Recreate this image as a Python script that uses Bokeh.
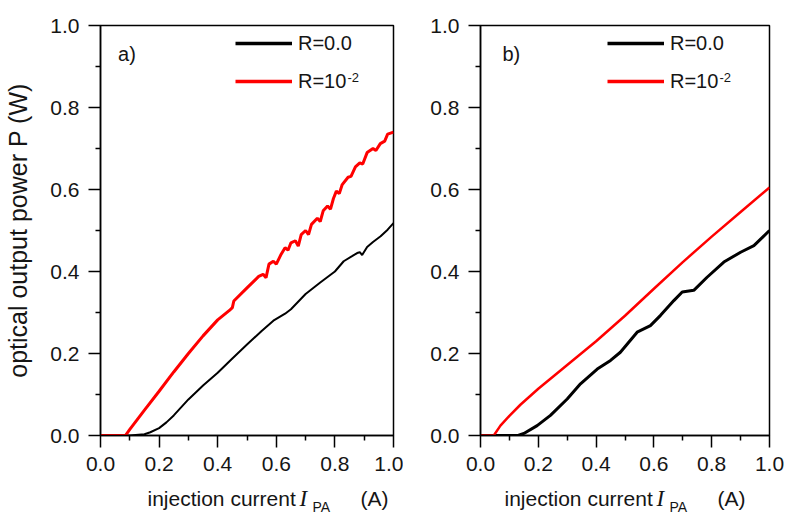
import numpy as np
from bokeh.plotting import figure
from bokeh.layouts import row, column
from bokeh.models import Range1d, FixedTicker, NumeralTickFormatter, Legend, LegendItem, Label
from bokeh.embed import file_html
from bokeh.resources import INLINE

# ---------------- data ----------------
# panel a), R = 0.0
ia_r0 = [0.0, 0.10, 0.15, 0.17, 0.20, 0.225, 0.25, 0.30, 0.35, 0.40, 0.45, 0.50, 0.55, 0.59,
         0.63, 0.65, 0.70, 0.75, 0.80, 0.83, 0.86, 0.876, 0.885, 0.893, 0.91, 0.93, 0.956, 0.98, 1.0]
pa_r0 = [0.0, 0.0, 0.003, 0.008, 0.018, 0.032, 0.049, 0.088, 0.122, 0.153, 0.188, 0.222, 0.255, 0.28,
         0.297, 0.308, 0.345, 0.373, 0.400, 0.425, 0.438, 0.445, 0.447, 0.440, 0.46, 0.472, 0.486, 0.502, 0.518]
# panel a), R = 1e-2
ia_r1 = [0.0, 0.085, 0.10, 0.15, 0.20, 0.25, 0.30, 0.35, 0.40, 0.44, 0.45, 0.455, 0.50, 0.54, 0.555,
         0.565, 0.575, 0.59, 0.60, 0.615, 0.63, 0.64, 0.65, 0.665, 0.675, 0.685, 0.70, 0.71, 0.72, 0.74,
         0.75, 0.76, 0.775, 0.785, 0.795, 0.805, 0.815, 0.825, 0.845, 0.855, 0.87, 0.885, 0.895, 0.91,
         0.93, 0.94, 0.955, 0.97, 0.98, 1.0]
pa_r1 = [0.0, 0.0, 0.015, 0.062, 0.108, 0.155, 0.200, 0.243, 0.282, 0.305, 0.312, 0.328, 0.360, 0.388, 0.393,
         0.385, 0.418, 0.425, 0.418, 0.44, 0.458, 0.452, 0.47, 0.475, 0.462, 0.49, 0.50, 0.49, 0.515, 0.53,
         0.522, 0.548, 0.56, 0.552, 0.578, 0.596, 0.590, 0.612, 0.63, 0.632, 0.655, 0.665, 0.662, 0.69,
         0.70, 0.695, 0.712, 0.718, 0.735, 0.74]
# panel b), R = 0.0
ib_r0 = [0.0, 0.13, 0.15, 0.196, 0.242, 0.30, 0.346, 0.404, 0.45, 0.484, 0.542, 0.588, 0.623, 0.669,
         0.698, 0.738, 0.784, 0.842, 0.90, 0.946, 1.0]
pb_r0 = [0.0, 0.0, 0.005, 0.024, 0.049, 0.089, 0.126, 0.162, 0.183, 0.203, 0.252, 0.268, 0.293, 0.329,
         0.35, 0.354, 0.386, 0.423, 0.447, 0.463, 0.50]
# panel b), R = 1e-2
ib_r1 = [0.0, 0.046, 0.069, 0.10, 0.138, 0.20, 0.30, 0.40, 0.50, 0.60, 0.70, 0.80, 0.90, 1.0]
pb_r1 = [0.0, 0.0, 0.024, 0.048, 0.075, 0.114, 0.172, 0.230, 0.292, 0.358, 0.423, 0.485, 0.545, 0.605]

major_ticks = [0.0, 0.2, 0.4, 0.6, 0.8, 1.0]
minor_ticks = [0.1, 0.3, 0.5, 0.7, 0.9]

legend_labels = ["R=0.0", "R=10"]
legend_sup = "-2"
panel_tags = ["a)", "b)"]
y_title = "optical output power P (W)"
x_title_parts = ["injection current", "I", "PA", "(A)"]

FONT = "Liberation Sans"
TXT = "#151515"
RED = "#ff0000"


def make_fig(frame_w, bl, br):
    p = figure(frame_width=frame_w, frame_height=410, min_border_left=bl, min_border_right=br,
               min_border_top=25, min_border_bottom=48,
               x_range=Range1d(0, 1), y_range=Range1d(0, 1),
               output_backend="svg", toolbar_location=None)
    p.xgrid.visible = False
    p.ygrid.visible = False
    p.outline_line_color = "black"
    p.outline_line_width = 1.5
    p.outline_line_alpha = 1.0
    p.background_fill_color = "white"
    p.border_fill_color = "white"
    for ax in (p.xaxis[0], p.yaxis[0]):
        ax.ticker = FixedTicker(ticks=major_ticks, minor_ticks=minor_ticks)
        ax.formatter = NumeralTickFormatter(format="0.0")
        ax.major_tick_out = 12
        ax.major_tick_in = 0
        ax.minor_tick_out = 5
        ax.minor_tick_in = 0
        ax.axis_line_width = 1.5
        ax.major_tick_line_width = 1.5
        ax.minor_tick_line_width = 1.5
        ax.axis_line_color = "black"
        ax.major_tick_line_color = "black"
        ax.minor_tick_line_color = "black"
        ax.major_label_text_font = FONT
        ax.major_label_text_font_size = "21px"
        ax.major_label_text_color = TXT
        ax.major_label_standoff = 9
    return p


def decorate(p, tag, leg_x, sup_x):
    # legend-only renderers (no visible data) so the legend lines can be drawn thicker
    nan = np.array([np.nan])
    g0 = p.line(nan, nan, line_color="black", line_width=3.5)
    g1 = p.line(nan, nan, line_color=RED, line_width=3.5)
    leg = Legend(items=[LegendItem(label=legend_labels[0], renderers=[g0]),
                        LegendItem(label=legend_labels[1], renderers=[g1])],
                 location=(leg_x, 342), glyph_width=57, glyph_height=24, label_height=24,
                 spacing=14, padding=0, margin=0, label_standoff=6,
                 border_line_color=None, background_fill_alpha=0,
                 label_text_font=FONT, label_text_font_size="20px", label_text_color=TXT)
    p.add_layout(leg)
    p.add_layout(Label(x=sup_x, y=0.873, text=legend_sup, text_font=FONT, text_font_size="13px",
                       text_color=TXT, text_baseline="alphabetic"))
    p.add_layout(Label(x=tag[1], y=0.930, text=tag[0], text_font=FONT, text_font_size="20px",
                       text_color=TXT, text_baseline="alphabetic"))


# ---------- panel a ----------
pa = make_fig(293, 100, 10)
pa.line(ia_r0, pa_r0, line_color="black", line_width=2)
pa.line(ia_r1, pa_r1, line_color=RED, line_width=3)
pa.yaxis.axis_label = y_title
pa.yaxis.axis_label_text_font = FONT
pa.yaxis.axis_label_text_font_style = "normal"
pa.yaxis.axis_label_text_font_size = "25px"
pa.yaxis.axis_label_text_color = TXT
pa.yaxis.axis_label_standoff = 15
decorate(pa, (panel_tags[0], 0.06), 135, 0.843)

# ---------- panel b ----------
pb = make_fig(289, 77, 18)
pb.line(ib_r0, pb_r0, line_color="black", line_width=3)
pb.line(ib_r1, pb_r1, line_color=RED, line_width=2.5)
decorate(pb, (panel_tags[1], 0.076), 127, 0.827)

# ---------- strip with x-axis titles (italic I, subscript PA) ----------
strip = figure(frame_width=787, frame_height=30, min_border_left=0, min_border_right=0,
               min_border_top=0, min_border_bottom=0, x_range=Range1d(0, 787), y_range=Range1d(0, 30),
               x_axis_type=None, y_axis_type=None, output_backend="svg", toolbar_location=None)
strip.xgrid.visible = False
strip.ygrid.visible = False
strip.outline_line_color = None
title_starts = [[147, 299, 312, 360], [504, 656, 669, 717]]
for xs in title_starts:
    strip.add_layout(Label(x=xs[0], y=15, text=x_title_parts[0], text_font=FONT,
                           text_font_size="21px", text_color=TXT, text_baseline="alphabetic"))
    strip.add_layout(Label(x=xs[1], y=15, text=x_title_parts[1], text_font="Liberation Serif",
                           text_font_style="italic", text_font_size="23px", text_color=TXT,
                           text_baseline="alphabetic"))
    strip.add_layout(Label(x=xs[2], y=7, text=x_title_parts[2], text_font=FONT,
                           text_font_size="14px", text_color=TXT, text_baseline="alphabetic"))
    strip.add_layout(Label(x=xs[3], y=15, text=x_title_parts[3], text_font=FONT,
                           text_font_size="21px", text_color=TXT, text_baseline="alphabetic"))

layout = column(row(pa, pb), strip)
open("out.html", "w").write(file_html(layout, INLINE))
